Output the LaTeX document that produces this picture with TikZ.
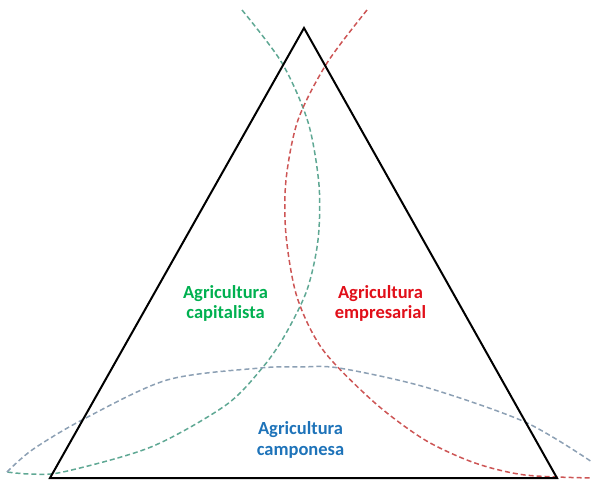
\documentclass[tikz,border=0pt]{standalone}
\usepackage{fontspec}
\setmainfont{Carlito}
\definecolor{gdash}{RGB}{95,168,148}
\definecolor{rdash}{RGB}{205,85,85}
\definecolor{bdash}{RGB}{140,160,180}
\definecolor{gtext}{RGB}{0,176,80}
\definecolor{rtext}{RGB}{225,15,25}
\definecolor{btext}{RGB}{30,115,185}
\begin{document}
\begin{tikzpicture}[x=1pt,y=-1pt,
  arcline/.style={line width=1.5pt,dash pattern=on 5pt off 3pt},
  lbl/.style={align=center,font=\fontsize{18.5}{20.5}\selectfont\bfseries,inner sep=0pt}]
\useasboundingbox (0,0) rectangle (592,480);
\coordinate (top) at (304,28);
\coordinate (bl) at (50,478);
\coordinate (br) at (557,478);
% dashed arcs
\draw[arcline,gdash] plot[smooth] coordinates {(242,10) (282,63) (308,122) (319,185) (318,240) (307,290) (285,335) (263,367) (226,405) (151,447) (63,472) (30,474) (7,472)};
\draw[arcline,rdash] plot[smooth] coordinates {(367,10) (327,63) (298,120) (286,180) (286,235) (297,297) (323,350) (375,403) (425,440) (475,463) (525,475) (592,478)};
\draw[arcline,bdash] plot[smooth] coordinates {(7,472) (32,450) (82,420) (167,380) (260,368) (300,367) (339,368) (425,387) (525,422) (592,462)};
% triangle
\draw[line width=2pt,line join=miter] (top) -- (bl) -- (br) -- cycle;
% labels
\node[lbl,text=gtext] (cap) at (225.5,303.5) {Agricultura\\capitalista};
\node[lbl,text=rtext] (emp) at (380.5,303.5) {Agricultura\\empresarial};
\node[lbl,text=btext] (camp) at (300.5,440) {Agricultura\\camponesa};
\end{tikzpicture}
\end{document}
